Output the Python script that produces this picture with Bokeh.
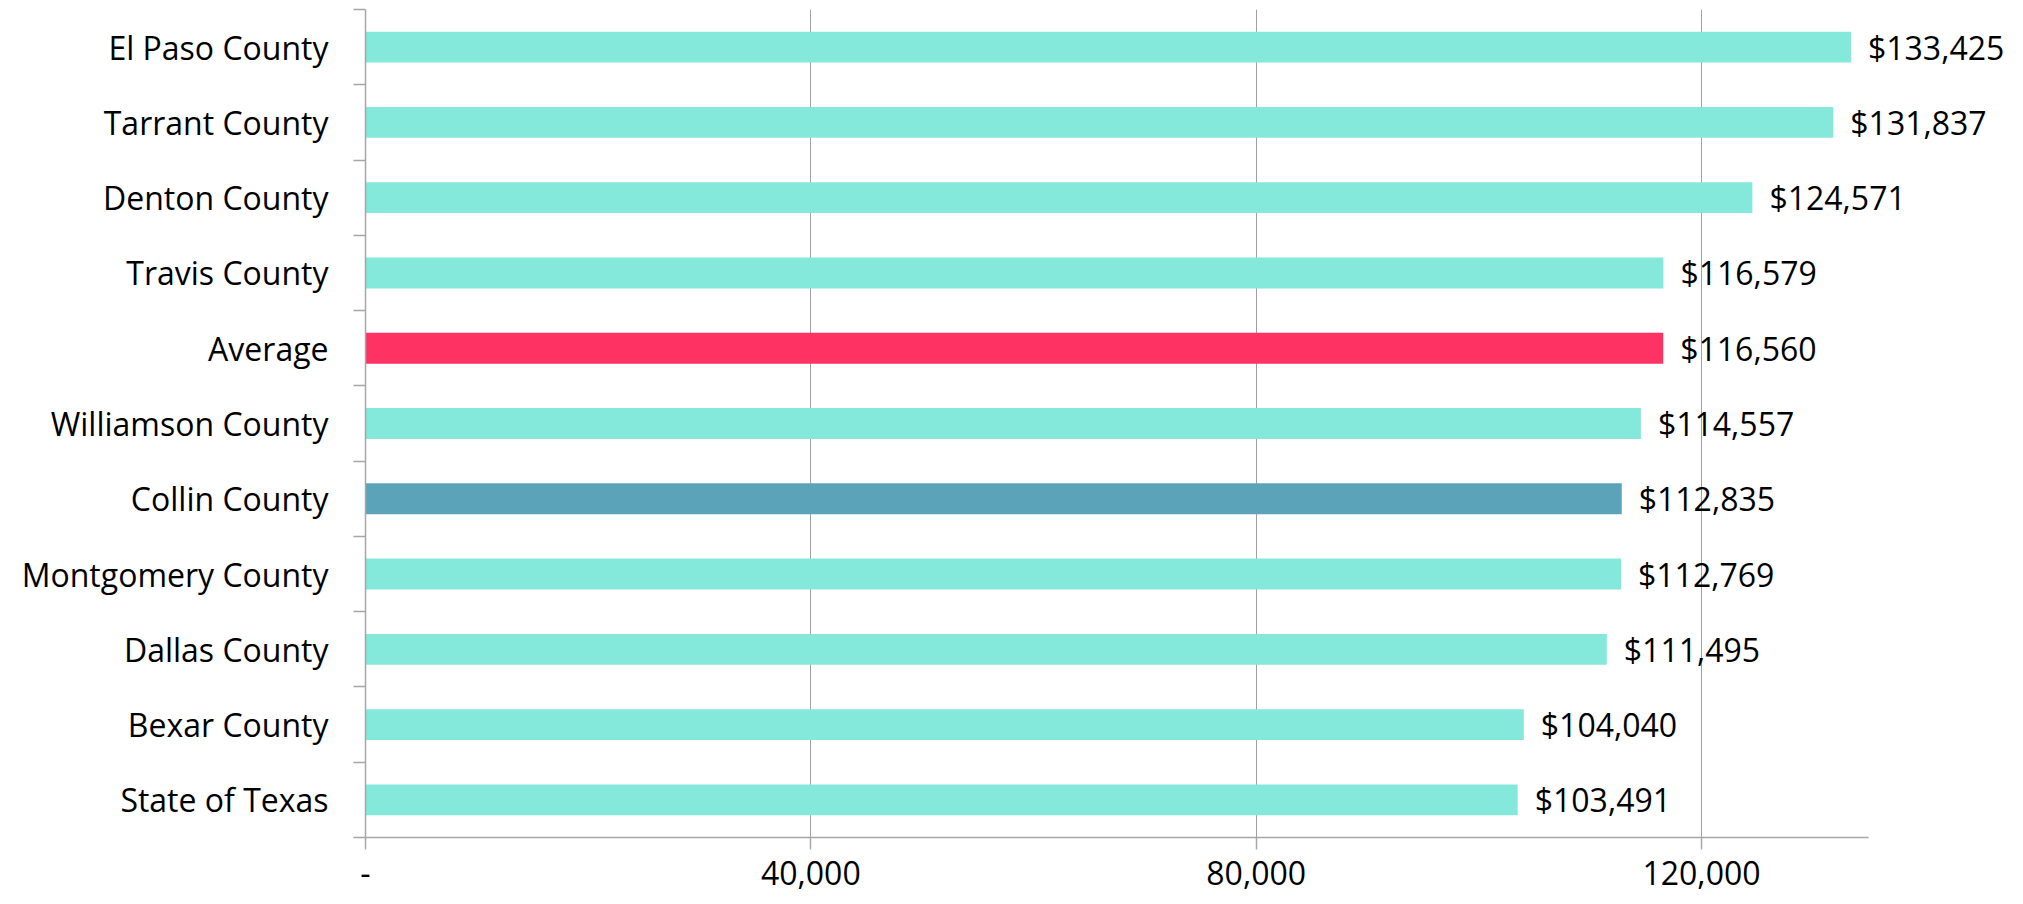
from bokeh.plotting import figure
from bokeh.models import ColumnDataSource, FixedTicker, Range1d, LabelSet
from bokeh.core.properties import value
from bokeh.embed import file_html
from bokeh.resources import INLINE

# ---- data (bottom to top) ----
categories = ["State of Texas", "Bexar County", "Dallas County", "Montgomery County",
              "Collin County", "Williamson County", "Average", "Travis County",
              "Denton County", "Tarrant County", "El Paso County"]
values = [103491, 104040, 111495, 112769, 112835, 114557, 116560, 116579,
          124571, 131837, 133425]
bar_colors = ["#84E9DA", "#84E9DA", "#84E9DA", "#84E9DA", "#5BA3B9", "#84E9DA",
              "#FF3264", "#84E9DA", "#84E9DA", "#84E9DA", "#84E9DA"]
value_labels = ["$" + f"{v:,}" for v in values]
x_ticks = [0, 40000, 80000, 120000]
x_tick_labels = ["-", "40,000", "80,000", "120,000"]
axis_max = 135000

FONT = "Open Sans"
FS = "32px"

positions = list(range(len(categories)))
src = ColumnDataSource(dict(y=positions, v=values, c=bar_colors, lab=value_labels))

# frame extends past the axis end so that the value labels have room
p = figure(width=2023, height=904, output_backend="svg", toolbar_location=None,
           x_range=Range1d(0, 148204), y_range=Range1d(-0.5, len(categories) - 0.5),
           min_border_left=365, min_border_right=8, min_border_top=9,
           min_border_bottom=67)
p.outline_line_color = None
p.background_fill_color = "white"
p.border_fill_color = "white"

p.hbar(y="y", right="v", left=0, height=0.41, fill_color="c", line_color=None, source=src)
labels = LabelSet(x="v", y="y", text="lab", source=src, x_offset=17, text_align="left",
                  text_baseline="middle", text_font=value(FONT), text_font_size=value(FS),
                  text_color="#000000")
p.add_layout(labels)

# y axis: labels at centres, ticks at boundaries
yax = p.yaxis[0]
yax.ticker = FixedTicker(ticks=positions,
                         minor_ticks=[i - 0.5 for i in range(len(categories) + 1)])
yax.major_label_overrides = {i: c for i, c in enumerate(categories)}
yax.major_tick_out = 0
yax.major_tick_in = 0
yax.minor_tick_out = 12
yax.minor_tick_in = 0
yax.minor_tick_line_color = "#A6A6A6"
yax.minor_tick_line_width = 1.5
yax.axis_line_color = "#A6A6A6"
yax.axis_line_width = 1.5
yax.major_label_text_font = FONT
yax.major_label_text_font_size = FS
yax.major_label_text_color = "#000000"
yax.major_label_standoff = 25

xax = p.xaxis[0]
xax.bounds = (0, axis_max)
xax.ticker = FixedTicker(ticks=x_ticks, minor_ticks=[])
xax.major_label_overrides = {t: l for t, l in zip(x_ticks, x_tick_labels)}
xax.major_tick_out = 12
xax.major_tick_in = 0
xax.minor_tick_out = 0
xax.minor_tick_in = 0
xax.major_tick_line_color = "#A6A6A6"
xax.major_tick_line_width = 1.5
xax.axis_line_color = "#A6A6A6"
xax.axis_line_width = 1.5
xax.major_label_text_font = FONT
xax.major_label_text_font_size = FS
xax.major_label_text_color = "#000000"
xax.major_label_standoff = 11

p.ygrid.grid_line_color = None
p.xgrid.ticker = FixedTicker(ticks=x_ticks[1:])
p.xgrid.grid_line_color = "#A0A0A0"
p.xgrid.grid_line_width = 1

open("out.html", "w").write(file_html(p, INLINE))
